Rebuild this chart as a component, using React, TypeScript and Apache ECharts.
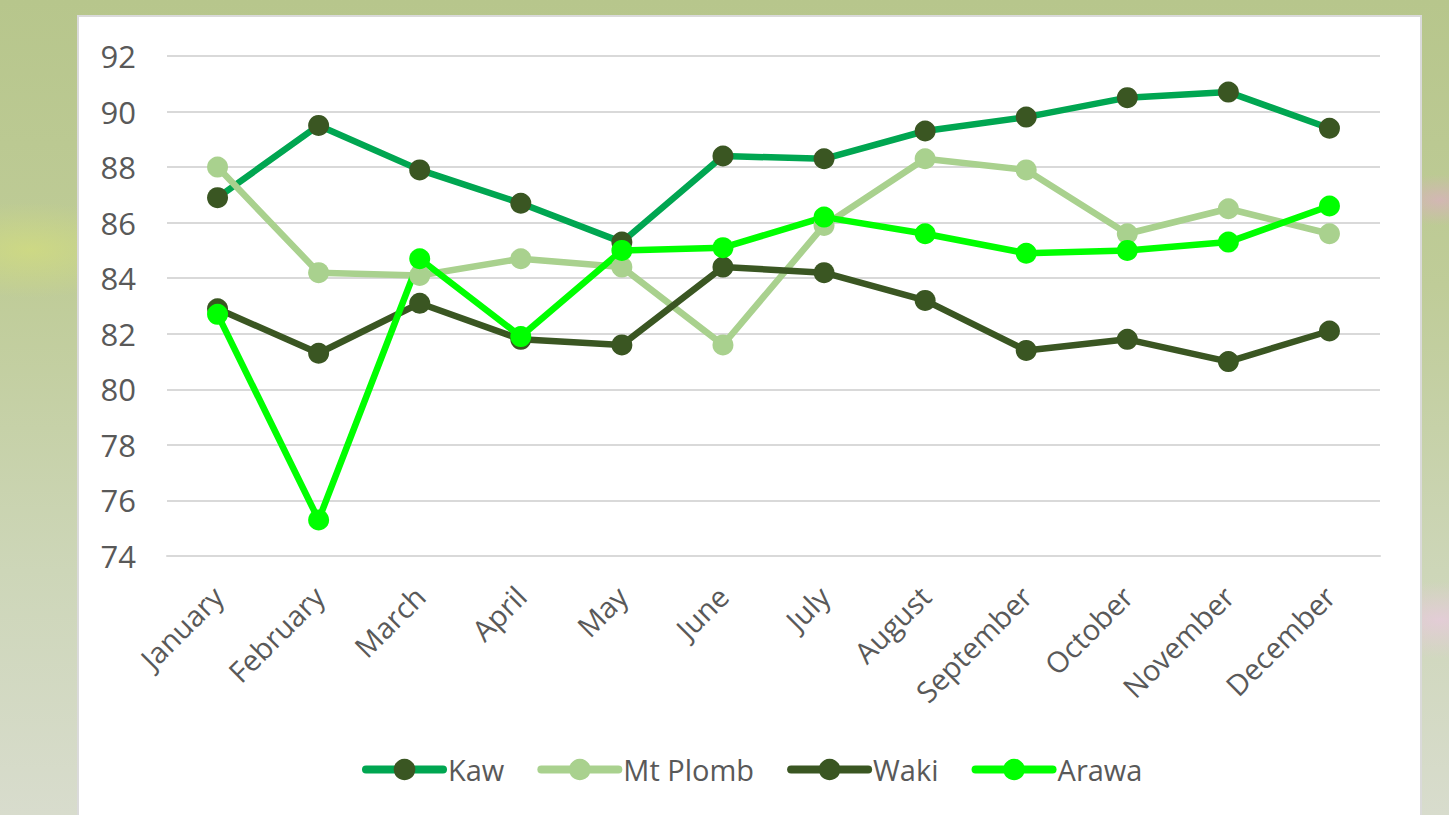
import React, { useEffect, useRef } from "react";
import * as echarts from "echarts";

const months = ["January", "February", "March", "April", "May", "June", "July", "August", "September", "October", "November", "December"];
const kaw = [86.9, 89.5, 87.9, 86.7, 85.3, 88.4, 88.3, 89.3, 89.8, 90.5, 90.7, 89.4];
const mtPlomb = [88.0, 84.2, 84.1, 84.7, 84.4, 81.6, 85.9, 88.3, 87.9, 85.6, 86.5, 85.6];
const waki = [82.9, 81.3, 83.1, 81.8, 81.6, 84.4, 84.2, 83.2, 81.4, 81.8, 81.0, 82.1];
const arawa = [82.7, 75.3, 84.7, 81.9, 85.0, 85.1, 86.2, 85.6, 84.9, 85.0, 85.3, 86.6];
const yMin = 74;
const yMax = 92;
const yStep = 2;

const FONT = "'Open Sans', 'Noto Sans', sans-serif";
const TEXT = "#595959";

function mk(name: string, data: number[], line: string, marker: string) {
  return {
    name,
    type: "line",
    data,
    symbol: "circle",
    symbolSize: 21,
    lineStyle: { color: line, width: 6.5 },
    itemStyle: { color: marker, borderWidth: 0 },
    emphasis: { disabled: true },
  };
}

export default function App() {
  const ref = useRef<HTMLDivElement>(null);
  useEffect(() => {
    const chart = echarts.init(ref.current!, null, { renderer: "svg" });
    chart.setOption({
      animation: false,
      textStyle: { fontFamily: FONT },
      grid: { left: 167, right: 69, top: 56, height: 500, containLabel: false },
      legend: {
        left: 357,
        top: 750,
        itemWidth: 77,
        itemHeight: 27,
        itemGap: 33,
        lineStyle: { width: 8, cap: "round" },
        textStyle: { color: TEXT, fontSize: 29, fontFamily: FONT },
        data: ["Kaw", "Mt Plomb", "Waki", "Arawa"],
      },
      xAxis: {
        type: "category",
        data: months,
        boundaryGap: true,
        axisLine: { show: true, lineStyle: { color: "#d9d9d9", width: 2 } },
        axisTick: { show: false },
        axisLabel: { rotate: 45, color: TEXT, fontSize: 29, fontFamily: FONT, margin: 35, interval: 0 },
      },
      yAxis: {
        type: "value",
        min: yMin,
        max: yMax,
        interval: yStep,
        axisLine: { show: false },
        axisTick: { show: false },
        splitLine: { lineStyle: { color: "#d9d9d9", width: 2 } },
        axisLabel: { color: TEXT, fontSize: 31, fontFamily: FONT, margin: 31 },
      },
      series: [
        mk("Kaw", kaw, "#00a651", "#3a5622"),
        mk("Mt Plomb", mtPlomb, "#a9d18e", "#a9d18e"),
        mk("Waki", waki, "#3a5622", "#3a5622"),
        mk("Arawa", arawa, "#00ff00", "#00ff00"),
      ],
    });
    return () => chart.dispose();
  }, []);
  return (
    <div
      style={{
        position: "fixed",
        left: 0,
        top: 0,
        width: 1449,
        height: 815,
        overflow: "hidden",
        background:
          "radial-gradient(ellipse at 1440px 200px, rgba(225,170,200,0.6), rgba(225,170,200,0) 60px), radial-gradient(ellipse at 1440px 620px, rgba(235,200,225,0.7), rgba(235,200,225,0) 90px), radial-gradient(ellipse at 30px 250px, rgba(215,225,120,0.6), rgba(215,225,120,0) 120px), linear-gradient(180deg, #b7c68c 0%, #bfcc98 35%, #cdd6b8 70%, #d8dccd 100%)",
      }}
    >
      <div
        style={{
          position: "absolute",
          left: 77,
          top: 15,
          width: 1341,
          height: 830,
          background: "#ffffff",
          border: "2px solid #dadada",
        }}
      />
      <div ref={ref} style={{ position: "absolute", left: 0, top: 0, width: 1449, height: 815 }} />
    </div>
  );
}
